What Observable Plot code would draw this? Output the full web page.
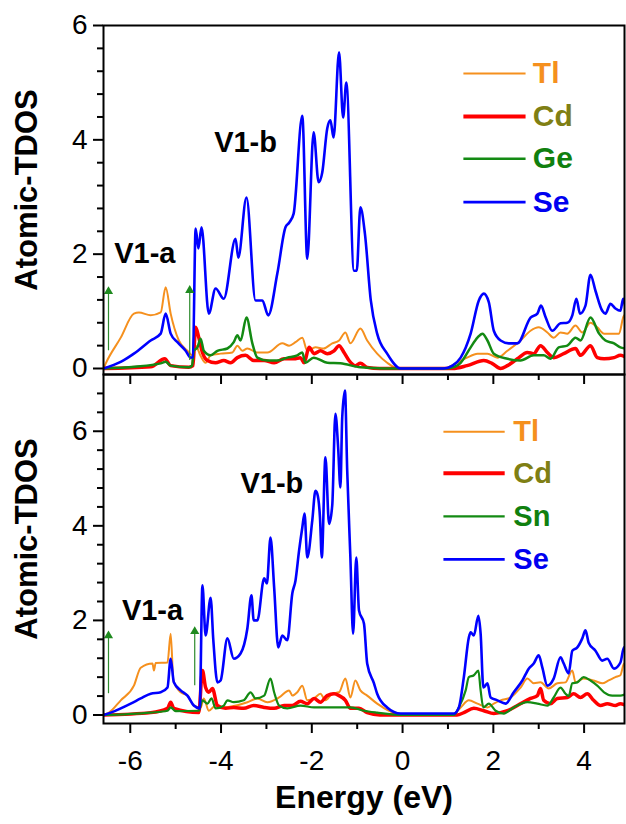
<!DOCTYPE html>
<html><head><meta charset="utf-8">
<script src="https://cdn.jsdelivr.net/npm/d3@7"></script>
<script src="https://cdn.jsdelivr.net/npm/@observablehq/plot@0.6"></script>
<style>body{margin:0;background:#fff} svg{display:block}</style>
</head><body><div id="chart"></div>
<script>
// ---- categories ----
const topElements = ["Tl", "Cd", "Ge", "Se"];
const bottomElements = ["Tl", "Cd", "Sn", "Se"];
const lineColors = {Tl: "#f5901e", Cd: "#ff0000", Ge: "#138a13", Sn: "#138a13", Se: "#0000ff"};
const labelColors = {Tl: "#f5901e", Cd: "#7f7f14", Ge: "#10800f", Sn: "#10800f", Se: "#0000f0"};
const lineWidths = {Tl: 2, Cd: 3.5, Ge: 2.5, Sn: 2.2, Se: 2.6};

// ---- tick labels ----
const xMajorTicks = [-6, -4, -2, 0, 2, 4];
const xMinorTicks = [-5, -3, -1, 1, 3];
const yMajorTicks = [0, 2, 4, 6];
const yMinorTicksTop = [0.4, 0.8, 1.2, 1.6, 2.4, 2.8, 3.2, 3.6, 4.4, 4.8, 5.2, 5.6];
const yMinorTicksBottom = [0.4, 0.8, 1.2, 1.6, 2.4, 2.8, 3.2, 3.6, 4.4, 4.8, 5.2, 5.6, 6.4, 6.8];

// ---- top panel series (Energy eV, DOS) ----
const topSe = [[-6.59,0],[-6.2,0.12],[-5.92,0.26],[-5.55,0.49],[-5.33,0.61],[-5.22,0.96],[-5.11,0.61],[-4.96,0.46],[-4.78,0.31],[-4.67,0.19],[-4.62,0.2],[-4.56,2.45],[-4.50,2.1],[-4.43,2.47],[-4.27,0.96],[-4.12,1.4],[-3.94,1.22],[-3.68,2.27],[-3.62,1.94],[-3.44,2.99],[-3.24,1.19],[-3.09,1.19],[-2.96,0.93],[-2.76,1.66],[-2.58,2.47],[-2.50,2.55],[-2.40,2.71],[-2.21,4.42],[-2.10,1.92],[-1.96,4.13],[-1.85,3.26],[-1.77,3.43],[-1.66,4.2],[-1.59,4.34],[-1.52,4.04],[-1.40,5.53],[-1.31,4.39],[-1.24,5.0],[-1.07,1.71],[-1.01,1.71],[-0.93,2.82],[-0.83,2.36],[-0.70,1.19],[-0.56,0.61],[-0.34,0.26],[-0.04,0],[0.9,0],[1.10,0.05],[1.28,0.19],[1.50,0.61],[1.68,1.19],[1.79,1.31],[1.90,1.16],[2.01,0.66],[2.16,0.49],[2.34,0.44],[2.53,0.44],[2.82,0.89],[2.97,0.96],[3.05,1.1],[3.15,0.9],[3.30,0.66],[3.48,0.79],[3.63,0.8],[3.74,0.93],[3.83,1.22],[3.91,0.96],[4.03,1.1],[4.14,1.64],[4.25,1.36],[4.40,1.01],[4.47,0.96],[4.58,1.13],[4.69,1.05],[4.80,1.01],[4.86,1.22],[4.93,0.96]];
const topTl = [[-6.59,0],[-6.54,0.09],[-6.21,0.54],[-5.92,0.96],[-5.81,0.98],[-5.55,0.93],[-5.33,0.98],[-5.22,1.42],[-5.11,0.96],[-4.93,0.49],[-4.74,0.31],[-4.63,0.23],[-4.56,0.4],[-4.45,0.22],[-4.34,0.1],[-4.23,0.23],[-4.01,0.26],[-3.75,0.28],[-3.64,0.4],[-3.53,0.31],[-3.42,0.35],[-3.20,0.28],[-2.98,0.28],[-2.65,0.44],[-2.50,0.4],[-2.36,0.46],[-2.21,0.54],[-2.10,0.31],[-1.92,0.37],[-1.74,0.35],[-1.55,0.44],[-1.40,0.49],[-1.26,0.63],[-1.15,0.44],[-0.93,0.7],[-0.78,0.49],[-0.56,0.26],[-0.34,0.1],[-0.09,0],[0.9,0],[1.20,0.1],[1.42,0.19],[1.65,0.26],[1.87,0.26],[2.09,0.19],[2.31,0.31],[2.60,0.49],[2.82,0.66],[3.0,0.72],[3.19,0.63],[3.33,0.54],[3.48,0.63],[3.63,0.61],[3.81,0.75],[3.96,0.63],[4.14,0.8],[4.29,0.72],[4.44,0.61],[4.62,0.61],[4.77,0.61],[4.88,0.93],[4.93,0.79]];
const topGe = [[-6.59,0],[-5.9,0.03],[-5.33,0.09],[-5.22,0.12],[-5.11,0.05],[-4.71,0.02],[-4.64,0.05],[-4.60,0.31],[-4.52,0.37],[-4.45,0.52],[-4.38,0.31],[-4.23,0.23],[-4.08,0.31],[-3.86,0.35],[-3.72,0.46],[-3.64,0.58],[-3.57,0.49],[-3.44,0.89],[-3.31,0.44],[-3.20,0.19],[-2.98,0.14],[-2.76,0.14],[-2.54,0.19],[-2.32,0.23],[-2.21,0.28],[-2.14,0.1],[-1.96,0.19],[-1.66,0.1],[-1.37,0.09],[-0.93,0.02],[-0.42,0],[0.95,0],[1.15,0.03],[1.28,0.1],[1.50,0.37],[1.65,0.54],[1.76,0.61],[1.87,0.49],[2.01,0.26],[2.31,0.17],[2.60,0.14],[2.89,0.23],[3.11,0.23],[3.26,0.17],[3.44,0.37],[3.63,0.4],[3.81,0.54],[3.92,0.49],[4.14,0.89],[4.33,0.61],[4.47,0.49],[4.66,0.44],[4.80,0.37],[4.93,0.35]];
const topCd = [[-6.59,0],[-5.55,0.03],[-5.24,0.17],[-5.11,0.05],[-4.71,0.02],[-4.62,0.05],[-4.56,0.72],[-4.49,0.54],[-4.41,0.28],[-4.30,0.14],[-4.12,0.1],[-3.94,0.14],[-3.79,0.1],[-3.64,0.19],[-3.46,0.23],[-3.28,0.14],[-3.05,0.14],[-2.83,0.1],[-2.61,0.17],[-2.39,0.17],[-2.25,0.19],[-2.17,0.1],[-2.06,0.37],[-1.95,0.26],[-1.81,0.31],[-1.66,0.26],[-1.51,0.31],[-1.40,0.4],[-1.29,0.28],[-1.18,0.14],[-1.04,0.05],[-0.93,0.09],[-0.78,0.02],[-0.5,0],[1.1,0],[1.42,0.05],[1.79,0.14],[1.97,0.09],[2.16,0],[2.31,0.05],[2.53,0.17],[2.75,0.28],[2.89,0.26],[3.04,0.4],[3.19,0.28],[3.33,0.19],[3.55,0.26],[3.81,0.35],[3.92,0.23],[4.14,0.4],[4.29,0.19],[4.44,0.17],[4.66,0.19],[4.80,0.23],[4.93,0.19]];

// ---- bottom panel series ----
const botSe = [[-6.59,0],[-6.43,0.05],[-5.99,0.24],[-5.77,0.35],[-5.55,0.45],[-5.33,0.48],[-5.18,0.58],[-5.11,1.19],[-5.04,0.69],[-4.89,0.52],[-4.74,0.41],[-4.60,0.2],[-4.47,0.14],[-4.41,2.74],[-4.34,1.68],[-4.23,2.48],[-4.17,1.58],[-4.08,0.69],[-4.01,0.73],[-3.86,1.62],[-3.72,1.19],[-3.57,1.3],[-3.42,1.83],[-3.33,2.53],[-3.28,2.0],[-3.20,2.0],[-3.05,2.89],[-2.99,2.78],[-2.91,3.75],[-2.83,2.7],[-2.74,1.43],[-2.65,1.68],[-2.54,1.58],[-2.43,2.57],[-2.36,2.84],[-2.28,3.48],[-2.21,3.96],[-2.16,4.26],[-2.10,3.33],[-1.99,4.11],[-1.92,4.74],[-1.88,4.68],[-1.82,4.18],[-1.78,3.33],[-1.70,5.45],[-1.62,4.04],[-1.55,4.43],[-1.48,6.37],[-1.42,5.66],[-1.37,4.81],[-1.33,6.29],[-1.27,6.86],[-1.22,5.17],[-1.15,3.33],[-1.09,1.72],[-1.02,3.33],[-0.96,2.21],[-0.85,1.93],[-0.78,1.09],[-0.63,0.67],[-0.56,0.45],[-0.34,0.16],[-0.04,0.03],[1.13,0.03],[1.24,0.16],[1.35,0.8],[1.46,1.64],[1.50,1.75],[1.57,1.68],[1.67,2.1],[1.72,1.72],[1.78,0.58],[1.87,0.67],[1.94,0.37],[2.09,0.31],[2.27,0.24],[2.45,0.48],[2.64,0.73],[2.78,0.98],[2.89,1.09],[3.00,1.26],[3.08,1.0],[3.19,0.62],[3.33,0.77],[3.48,1.22],[3.55,1.09],[3.66,0.88],[3.74,1.36],[3.85,1.43],[3.96,1.62],[4.03,1.79],[4.10,1.53],[4.25,1.36],[4.40,1.15],[4.51,1.19],[4.66,0.98],[4.80,1.11],[4.88,1.43],[4.93,1.3]];
const botTl = [[-6.59,0],[-6.47,0.05],[-6.21,0.31],[-5.92,0.62],[-5.77,1.0],[-5.51,1.09],[-5.48,0.94],[-5.44,1.1],[-5.18,1.11],[-5.11,1.72],[-5.05,0.73],[-4.89,0.48],[-4.74,0.41],[-4.60,0.2],[-4.45,0.16],[-4.38,0.35],[-4.27,0.09],[-4.12,0.2],[-3.94,0.16],[-3.42,0.27],[-3.20,0.35],[-2.98,0.27],[-2.72,0.37],[-2.50,0.52],[-2.43,0.41],[-2.32,0.48],[-2.21,0.62],[-2.10,0.31],[-1.95,0.35],[-1.81,0.45],[-1.70,0.31],[-1.55,0.45],[-1.40,0.48],[-1.26,0.77],[-1.15,0.37],[-1.04,0.73],[-0.93,0.52],[-0.78,0.41],[-0.56,0.24],[-0.30,0.09],[0,0],[1.1,0],[1.28,0.16],[1.46,0.31],[1.65,0.24],[1.87,0.16],[2.01,0.24],[2.16,0.31],[2.38,0.37],[2.60,0.58],[2.75,0.77],[2.89,0.67],[3.04,0.69],[3.22,0.56],[3.41,0.67],[3.59,0.69],[3.74,0.94],[3.81,0.69],[3.99,0.77],[4.21,0.73],[4.40,0.67],[4.54,0.73],[4.69,0.8],[4.80,0.84],[4.88,1.09],[4.93,1.05]];
const botSn = [[-6.59,0],[-5.55,0.05],[-5.18,0.09],[-5.11,0.16],[-5.0,0.08],[-4.49,0.09],[-4.41,0.31],[-4.30,0.24],[-4.21,0.35],[-4.12,0.14],[-3.94,0.2],[-3.86,0.31],[-3.72,0.27],[-3.50,0.31],[-3.35,0.48],[-3.24,0.35],[-3.05,0.41],[-2.91,0.77],[-2.83,0.48],[-2.72,0.2],[-2.54,0.14],[-2.25,0.2],[-1.95,0.16],[-1.66,0.16],[-1.37,0.16],[-1.15,0.16],[-0.85,0.09],[-0.56,0.05],[0,0],[1.13,0],[1.24,0.16],[1.39,0.52],[1.46,0.8],[1.57,0.84],[1.67,0.94],[1.72,0.52],[1.78,0.16],[1.90,0.24],[2.05,0.09],[2.23,0.03],[2.45,0.16],[2.75,0.27],[2.97,0.24],[3.19,0.2],[3.33,0.37],[3.48,0.58],[3.59,0.45],[3.66,0.4],[3.74,0.67],[3.85,0.69],[3.99,0.8],[4.14,0.73],[4.29,0.62],[4.44,0.48],[4.62,0.41],[4.80,0.41],[4.93,0.45]];
const botCd = [[-6.59,0],[-5.55,0.05],[-5.18,0.14],[-5.11,0.27],[-5.04,0.14],[-4.49,0.05],[-4.41,0.94],[-4.34,0.58],[-4.27,0.48],[-4.19,0.56],[-4.08,0.2],[-3.90,0.14],[-3.72,0.16],[-3.50,0.14],[-3.28,0.2],[-3.05,0.16],[-2.83,0.14],[-2.61,0.2],[-2.43,0.2],[-2.25,0.29],[-2.10,0.24],[-1.95,0.35],[-1.81,0.27],[-1.66,0.41],[-1.51,0.45],[-1.40,0.41],[-1.26,0.31],[-1.15,0.14],[-0.96,0.14],[-0.78,0.05],[-0.5,0],[1.2,0],[1.35,0.05],[1.57,0.14],[1.79,0.09],[2.01,0.03],[2.31,0.09],[2.53,0.2],[2.82,0.35],[2.97,0.41],[3.04,0.56],[3.11,0.31],[3.26,0.24],[3.41,0.35],[3.63,0.37],[3.77,0.45],[3.92,0.37],[4.07,0.45],[4.21,0.31],[4.36,0.2],[4.51,0.24],[4.69,0.2],[4.80,0.24],[4.93,0.2]];

// ---- annotations ----
const topNotes = [{x: -5.68, y: 2.0, text: "V1-a"}, {x: -3.46, y: 3.95, text: "V1-b"}];
const bottomNotes = [{x: -5.51, y: 2.2, text: "V1-a"}, {x: -2.88, y: 4.88, text: "V1-b"}];
const topArrows = [{x: -6.48, y1: 0.31, y2: 1.4}, {x: -4.69, y1: 0.14, y2: 1.42}];
const bottomArrows = [{x: -6.48, y1: 0.45, y2: 1.74}, {x: -4.58, y1: 0.62, y2: 1.83}];

// legend layout (in data units of each panel)
const topLegend = {x1: 1.34, x2: 2.71, xt: 2.87, rows: [5.16, 4.41, 3.67, 2.91]};
const bottomLegend = {x1: 0.90, x2: 2.25, xt: 2.44, rows: [5.99, 5.11, 4.20, 3.29]};

const FONT = "'Liberation Sans', Arial, Helvetica, sans-serif";
const FRAME_H = 349;

function panel({series, elements, yDomain, yMinor, notes, arrows, legend, height, marginTop, marginBottom, bottomAxis, legendFont, titleDy}) {
  const marks = [];
  for (const el of elements) {
    marks.push(Plot.line(series[el], {x: d => d[0], y: d => d[1], stroke: lineColors[el], strokeWidth: lineWidths[el], clip: true, curve: "monotone-x", strokeLinejoin: "round"}));
  }
  // arrows
  marks.push(Plot.ruleX(arrows, {x: "x", y1: "y1", y2: "y2", stroke: "#2e8b2e", strokeWidth: 1.2}));
  marks.push(Plot.dot(arrows, {x: "x", y: "y2", symbol: "triangle", r: 3.4, fill: "#1f8a1f", stroke: "none", dy: 3}));
  // annotations
  marks.push(Plot.text(notes, {x: "x", y: "y", text: "text", fontSize: 29, fontWeight: "bold", fill: "#000"}));
  // legend
  const legRows = elements.map((el, i) => ({el, y: legend.rows[i]}));
  marks.push(Plot.link(legRows, {x1: () => legend.x1, x2: () => legend.x2, y1: "y", y2: "y", stroke: d => lineColors[d.el], strokeWidth: d => lineWidths[d.el] + (d.el === "Cd" ? 0.5 : 0)}));
  marks.push(Plot.text(legRows, {x: () => legend.xt, y: "y", text: "el", textAnchor: "start", fill: d => labelColors[d.el], fontSize: legendFont, fontWeight: "bold"}));
  // y title
  marks.push(Plot.text(["Atomic-TDOS"], {frameAnchor: "left", textAnchor: "middle", dx: -76, dy: titleDy, rotate: -90, fontSize: 31, fontWeight: "bold", fill: "#000"}));
  // axes
  marks.push(Plot.axisY({ticks: yMajorTicks, tickSize: 10, tickPadding: 6, fontSize: 28, strokeWidth: 2, label: null, tickFormat: d => String(d)}));
  marks.push(Plot.axisY({ticks: yMinor, tickSize: 6, strokeWidth: 2, fill: "none", label: null}));
  if (bottomAxis) {
    marks.push(Plot.axisX({anchor: "bottom", ticks: xMajorTicks, tickSize: 10, tickPadding: 17, fontSize: 28, strokeWidth: 2, label: null, tickFormat: d => String(d)}));
    marks.push(Plot.axisX({anchor: "bottom", ticks: xMinorTicks, tickSize: 6, strokeWidth: 2, fill: "none", label: null}));
    // ticks of the upper panel's axis, hanging down from the shared border
    const unitsPerPx = (yDomain[1] - yDomain[0]) / FRAME_H;
    const yTop = yDomain[1];
    marks.push(Plot.ruleX(xMajorTicks, {x: d => d, y1: () => yTop, y2: () => yTop - 10 * unitsPerPx, stroke: "#000", strokeWidth: 2}));
    marks.push(Plot.ruleX(xMinorTicks, {x: d => d, y1: () => yTop, y2: () => yTop - 6 * unitsPerPx, stroke: "#000", strokeWidth: 2}));
    marks.push(Plot.text(["Energy (eV)"], {frameAnchor: "bottom", dy: 84, fontSize: 32, fontWeight: "bold", fill: "#000"}));
  }
  marks.push(Plot.frame({stroke: "#000", strokeWidth: 2}));
  return Plot.plot({
    width: 626, height, marginTop, marginBottom, marginLeft: 103, marginRight: 2,
    x: {domain: [-6.59, 4.89], axis: bottomAxis ? undefined : null},
    y: {domain: yDomain},
    style: {fontFamily: FONT, color: "#000", background: "none", overflow: "visible"},
    marks
  });
}

const chartDiv = document.getElementById("chart");
const bottomSvg = panel({
  series: {Tl: botTl, Cd: botCd, Sn: botSn, Se: botSe},
  elements: bottomElements, yDomain: [-0.18, 7.2], yMinor: yMinorTicksBottom,
  notes: bottomNotes, arrows: bottomArrows, legend: bottomLegend,
  height: 450, marginTop: 0, marginBottom: 101, bottomAxis: true, legendFont: 29, titleDy: -10
});
const topSvg = panel({
  series: {Tl: topTl, Cd: topCd, Ge: topGe, Se: topSe},
  elements: topElements, yDomain: [-0.105, 6], yMinor: yMinorTicksTop,
  notes: topNotes, arrows: topArrows, legend: topLegend,
  height: 374, marginTop: 25, marginBottom: 0, bottomAxis: false, legendFont: 30, titleDy: -10
});
topSvg.style.position = "relative";
topSvg.style.zIndex = "2";
chartDiv.append(topSvg, bottomSvg);
</script></body></html>
